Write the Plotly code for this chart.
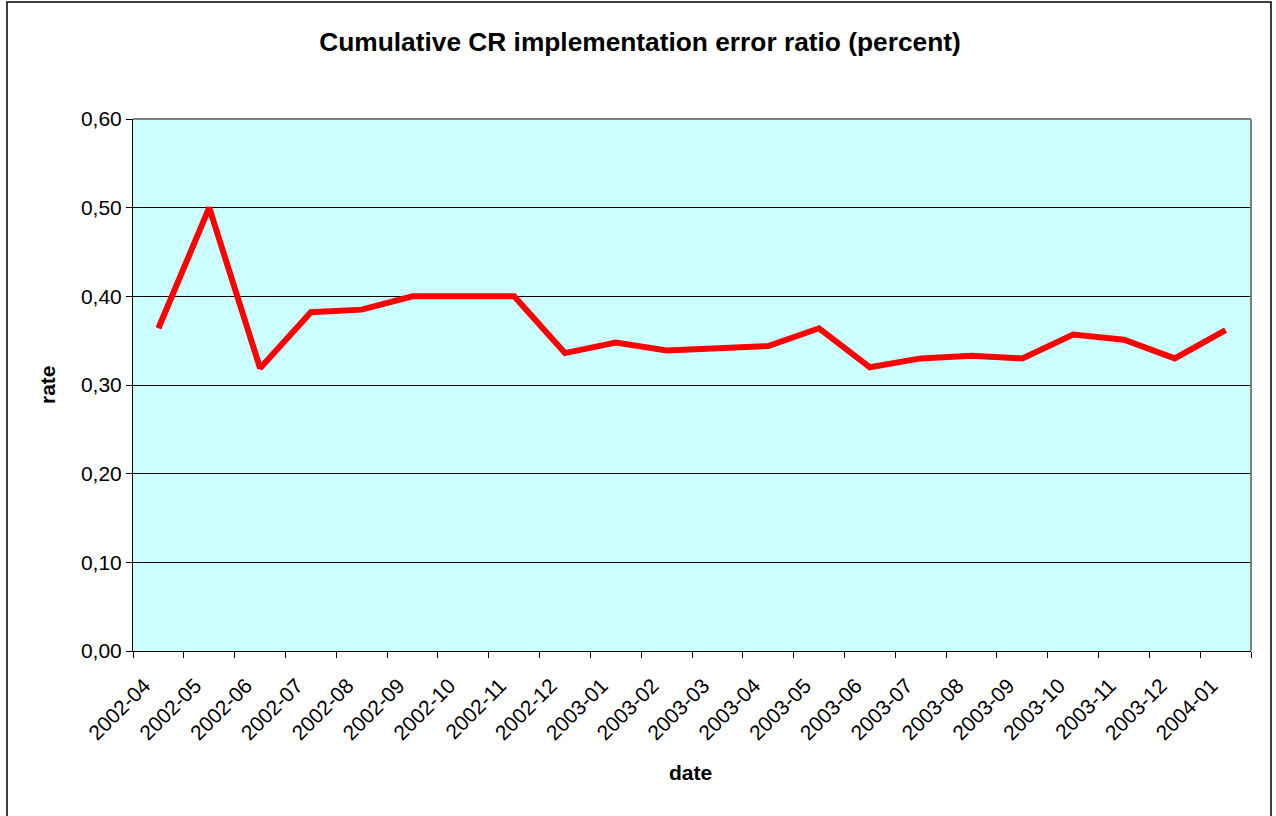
import plotly.graph_objects as go

dates = ["2002-04", "2002-05", "2002-06", "2002-07", "2002-08", "2002-09", "2002-10",
         "2002-11", "2002-12", "2003-01", "2003-02", "2003-03", "2003-04", "2003-05",
         "2003-06", "2003-07", "2003-08", "2003-09", "2003-10", "2003-11", "2003-12",
         "2004-01"]
rate = [0.364, 0.500, 0.319, 0.382, 0.385, 0.400, 0.400, 0.400, 0.336, 0.348, 0.339,
        0.341, 0.344, 0.364, 0.320, 0.330, 0.333, 0.330, 0.357, 0.351, 0.330, 0.362]
y_ticks = [0.0, 0.1, 0.2, 0.3, 0.4, 0.5, 0.6]

W, H = 1276, 816
L, R, T, B = 133, 1251, 119, 651
pw, ph = R - L, B - T

def px(x):
    return (x - L) / pw

def py(y):
    return (B - y) / ph

fig = go.Figure()
fig.add_trace(go.Scatter(x=dates, y=rate, mode="lines",
                         line=dict(color="#FF0000", width=6), hoverinfo="x+y"))

font = "Liberation Sans, Arial, sans-serif"
fig.update_layout(
    width=W, height=H,
    margin=dict(l=L, r=W - R, t=T, b=H - B, pad=0),
    paper_bgcolor="white",
    plot_bgcolor="#CCFFFF",
    separators=",.",
    showlegend=False,
    font=dict(family=font, size=21, color="black"),
    title=dict(text="<b>Cumulative CR implementation error ratio (percent)</b>",
               x=(640) / W, xanchor="center", y=1 - 42 / H, yanchor="middle",
               font=dict(size=26.3, family=font, color="black")),
    xaxis=dict(type="category", tickson="boundaries", ticks="outside", ticklen=6,
               tickcolor="black", tickangle=-45, showgrid=False, showline=True,
               linecolor="black", linewidth=1, tickfont=dict(size=21, family=font),
               ticklabelstandoff=13, ticklabelshift=-14,
               range=[-0.5, len(dates) - 0.5], zeroline=False),
    yaxis=dict(range=[0, 0.6], tickvals=y_ticks, tickformat=".2f", ticks="outside",
               ticklen=6, tickcolor="black", showgrid=True, gridcolor="black",
               gridwidth=1, showline=True, linecolor="black", linewidth=1,
               zeroline=False, tickfont=dict(size=21, family=font)),
    shapes=[
        dict(type="line", xref="paper", yref="paper", x0=0, x1=1, y0=1, y1=1,
             line=dict(color="#808080", width=2)),
        dict(type="line", xref="paper", yref="paper", x0=1, x1=1, y0=0, y1=1,
             line=dict(color="#808080", width=2)),
        dict(type="rect", xref="paper", yref="paper", x0=px(7), x1=px(1271),
             y0=py(2), y1=py(822), line=dict(color="black", width=1.5),
             fillcolor="rgba(0,0,0,0)", layer="below"),
    ],
    annotations=[
        dict(text="<b>rate</b>", xref="paper", yref="paper", x=px(47), y=py(385),
             xanchor="center", yanchor="middle", textangle=-90, showarrow=False,
             font=dict(size=21, family=font)),
        dict(text="<b>date</b>", xref="paper", yref="paper", x=px(690), y=py(772),
             xanchor="center", yanchor="middle", showarrow=False,
             font=dict(size=21, family=font)),
    ],
)

fig.write_html("out.html", config={"displayModeBar": False},
               post_script="document.body.style.margin='0px';document.body.style.overflow='hidden';")
